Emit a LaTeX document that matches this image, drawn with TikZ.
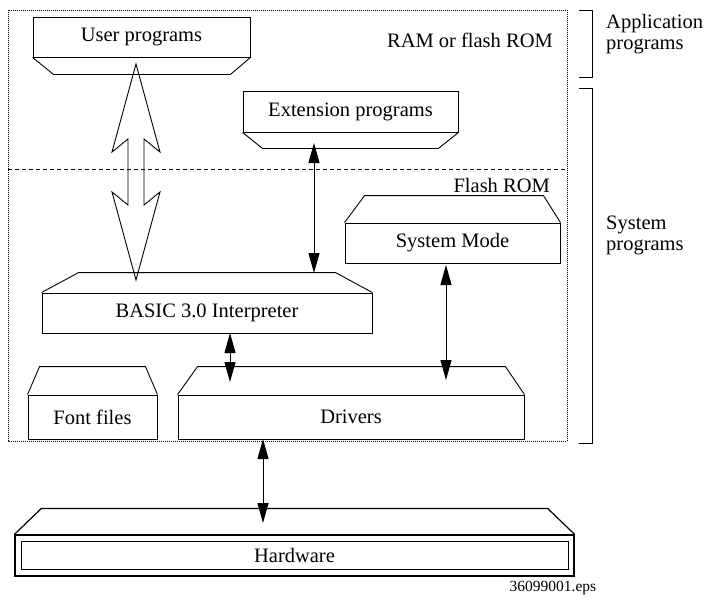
\documentclass[tikz,border=0pt]{standalone}
\usepackage{fontspec}
\setmainfont{Liberation Serif}
\usetikzlibrary{arrows.meta,calc}
\tikzset{
  box/.style={draw, line width=0.9pt, inner sep=0pt, font=\fontsize{20.5}{24}\selectfont},
  lid/.style={line width=0.9pt},
  link/.style={arrows={Triangle[length=20pt,width=11pt]-Triangle[length=20pt,width=11pt]}, line width=1pt},
  hollow/.style={line width=0.9pt, line join=miter},
  lbl/.style={inner sep=0pt, font=\fontsize{20.5}{21}\selectfont, align=left},
}

\begin{document}
\begin{tikzpicture}[x=1pt,y=-1pt]
   \useasboundingbox (0,0) rectangle (709,597);
   % memory areas
   \draw[line width=0.8pt, dash pattern=on 1pt off 1pt] (8,10) rectangle (567,441);
   \draw[line width=0.8pt, dash pattern=on 4pt off 3pt] (8,169) -- (567,169);
   \node[lbl, anchor=east] (ram) at (553,40) {RAM or flash ROM};
   \node[lbl, anchor=east] (flash) at (550,185) {Flash ROM};

   % program blocks
   \node[box, minimum width=217pt, minimum height=40pt] (user) at (141.5,37) {User programs};
   \draw[lid] (user.south west) -- ($(user.south west)+(21,17)$) -- ($(user.south east)+(-20,17)$) -- (user.south east);
   \node[box, minimum width=215pt, minimum height=41pt] (ext) at (350.5,111.5) {Extension programs};
   \draw[lid] (ext.south west) -- ($(ext.south west)+(20,16)$) -- ($(ext.south east)+(-20,16)$) -- (ext.south east);
   \node[box, minimum width=215pt, minimum height=40pt] (sysmode) at (452.5,243) {System Mode};
   \draw[lid] (sysmode.north west) -- ($(sysmode.north west)+(20,-27)$) -- ($(sysmode.north east)+(-17,-27)$) -- (sysmode.north east);
   \node[box, minimum width=330pt, minimum height=40pt] (basic) at (207,313) {BASIC 3.0 Interpreter};
   \draw[lid] (basic.north west) -- ($(basic.north west)+(37,-20)$) -- ($(basic.north east)+(-37,-20)$) -- (basic.north east);
   \node[box, minimum width=129pt, minimum height=44pt] (fonts) at (92.5,417) {Font files};
   \draw[lid] (fonts.north west) -- ($(fonts.north west)+(12,-28)$) -- ($(fonts.north east)+(-12,-28)$) -- (fonts.north east);
   \node[box, minimum width=346pt, minimum height=44pt] (drivers) at (351,417) {Drivers};
   \draw[lid] (drivers.north west) -- ($(drivers.north west)+(20,-28)$) -- ($(drivers.north east)+(-19,-28)$) -- (drivers.north east);

   % hardware, double frame
   \node[draw, line width=1.2pt, minimum width=559pt, minimum height=41pt] (hw) at (294.5,555.5) {};
   \node[box, minimum width=547pt, minimum height=28pt] (hwin) at (hw.center) {Hardware};
   \draw[lid, line width=1.2pt] (hw.north west) -- ($(hw.north west)+(27,-26)$) -- ($(hw.north east)+(-27,-26)$) -- (hw.north east);

   % arrow ends
   \coordinate (ua) at (136,64);
   \coordinate (ba) at (136,280);
   \coordinate (e1) at (314,143);
   \coordinate (b1) at (314,273);
   \coordinate (s1) at (446,265);
   \coordinate (d1) at (446,380);
   \coordinate (b2) at (230,333);
   \coordinate (d2) at (230,382);
   \coordinate (d3) at (263,439);
   \coordinate (h1) at (263,523);

   \draw[hollow] (ua) -- ++(24,88) -- ++(-16,-13) -- ++(0,66) -- ++(16,-13) -- (ba)
      -- ++(-24,-88) -- ++(16,13) -- ++(0,-66) -- ++(-16,13) -- cycle;
   \draw[link] (e1) -- (b1);
   \draw[link] (s1) -- (d1);
   \draw[link] (b2) -- (d2);
   \draw[link] (d3) -- (h1);

   % brackets on the right
   \draw[line width=0.9pt] (579,10) -| (592,77) -- (579,77);
   \draw[line width=0.9pt] (579,88) -| (592,443) -- (579,443);
   \node[lbl, anchor=west] (apps) at (606,34) {Application\\programs};
   \node[lbl, anchor=west] (sysprog) at (606,235) {System\\programs};

   \node[inner sep=0pt, font=\fontsize{15.5}{18}\selectfont] (fig) at (553,588) {36099001.eps};
\end{tikzpicture}
\end{document}
